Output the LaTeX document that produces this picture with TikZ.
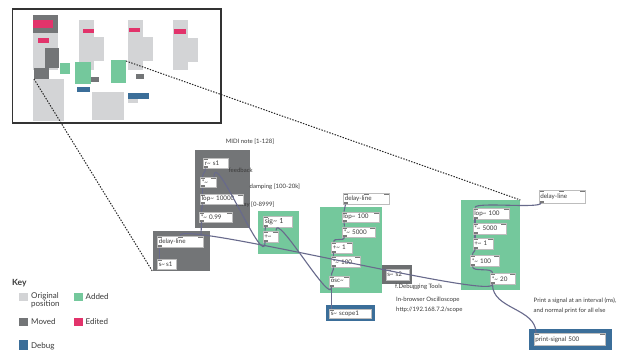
\documentclass[tikz,border=0pt]{standalone}
\usepackage{fontspec}
\setmainfont{Lato}
\usetikzlibrary{calc}
\definecolor{lg}{HTML}{D3D4D6}
\definecolor{dg}{HTML}{737577}
\definecolor{pk}{HTML}{E2336B}
\definecolor{gr}{HTML}{74C89C}
\definecolor{bl}{HTML}{3B6E99}
\definecolor{cabc}{HTML}{686A8C}
\definecolor{tabc}{HTML}{7A7A7A}
\definecolor{obd}{HTML}{BDBDBD}
\definecolor{txt}{HTML}{3A3A3A}
\newcommand\tld{\textasciitilde}
\newcommand\tabTL{\fill[tabc] (path picture bounding box.north west) rectangle ++(5pt,-1.8pt);}
\newcommand\tabTR{\fill[tabc] (path picture bounding box.north east) rectangle ++(-5pt,-1.8pt);}
\newcommand\tabTM{\fill[tabc] ([xshift=-2.5pt]path picture bounding box.north) rectangle ++(5pt,-1.8pt);}
\newcommand\tabBL{\fill[tabc] (path picture bounding box.south west) rectangle ++(5pt,1.8pt);}
\newcommand\cable[3]{\draw[cab] (#1) .. controls +(0,#3) and +(0,-#3) .. (#2);}
\tikzset{
  obj/.style={draw=obd, line width=0.5pt, fill=white, inner xsep=1.5pt, inner ysep=0pt,
    anchor=north west, font=\fontsize{6.3}{7}\selectfont, text=txt, align=left},
  io0/.style={path picture={\tabTL}},
  io1/.style={path picture={\tabTL\tabBL}},
  io2/.style={path picture={\tabTL\tabTR\tabBL}},
  io3/.style={path picture={\tabTL\tabTM\tabTR\tabBL}},
  ioP/.style={path picture={\tabTL\tabTR}},
  grp/.style={anchor=north west, inner sep=0pt, draw=none},
  cab/.style={draw=cabc, line width=1.1pt},
  lbl/.style={anchor=west, inner sep=0pt, font=\fontsize{6}{7}\selectfont, text=txt},
  keyt/.style={anchor=west, inner sep=0pt, font=\fontsize{8}{9}\selectfont, text=txt},
  keysq/.style={anchor=north west, inner sep=0pt, minimum width=9.4pt, minimum height=8.4pt},
  dashline/.style={draw=black!85, line width=1pt, dash pattern=on 1.4pt off 1.4pt},
}
\begin{document}
\begin{tikzpicture}[x=1pt,y=-1pt]
\useasboundingbox (0,0) rectangle (636,356);
\fill[white] (0,0) rectangle (636,356);
% ---------- inset overview ----------
\fill[lg] (32.7,32.7) rectangle (57.7,70);
\fill[lg] (32.7,79) rectangle (64,121);
\fill[lg] (79,20) rectangle (94,70);
\fill[lg] (94,37) rectangle (104,61);
\fill[lg] (92,92) rectangle (124,120);
\fill[lg] (128,20) rectangle (143,70);
\fill[lg] (143,37) rectangle (153,61);
\fill[lg] (128,99) rectangle (138,103);
\fill[lg] (173,20) rectangle (188,70);
\fill[lg] (188,38) rectangle (198,62);
\fill[dg] (32.7,15) rectangle (57.7,32.7);
\fill[dg] (45,47.7) rectangle (59,67.7);
\fill[dg] (34,67.7) rectangle (49,79);
\fill[dg] (91,77) rectangle (99,81.7);
\fill[dg] (136,74) rectangle (144,79);
\fill[pk] (33.3,20) rectangle (52.7,27.7);
\fill[pk] (38,37.7) rectangle (49,42.7);
\fill[pk] (83,29) rectangle (94,33);
\fill[pk] (129,28) rectangle (140,32);
\fill[pk] (174,29) rectangle (186,34);
\fill[gr] (60,63) rectangle (70,74);
\fill[gr] (75,62) rectangle (91,84);
\fill[gr] (111,60) rectangle (126,83);
\fill[bl] (77,87) rectangle (90,92);
\fill[bl] (128,93) rectangle (149,99);
\draw[black!80, line width=1.3pt] (12.5,9) rectangle (221,123);
\coordinate (ins1) at (34,79);
\coordinate (ins2) at (126,61);
% ---------- groups ----------
\node[grp, fill=dg, minimum width=55pt, minimum height=78pt] (g1) at (195,150) {};
\node[grp, fill=gr, minimum width=41pt, minimum height=42.5pt] (g2) at (257.5,211) {};
\node[grp, fill=dg, minimum width=57.5pt, minimum height=40.5pt] (g3) at (152.5,230.5) {};
\node[grp, fill=gr, minimum width=62pt, minimum height=86pt] (g4) at (320,207) {};
\node[grp, fill=gr, minimum width=59pt, minimum height=90pt] (g5) at (461,200) {};
\node[grp, fill=bl, minimum width=49pt, minimum height=15.5pt] (fscope) at (326,305) {};
\node[grp, fill=dg!95!black, minimum width=30pt, minimum height=18.5pt] (fs2) at (382,265) {};
\node[grp, fill=bl, minimum width=83pt, minimum height=21pt] (fprint) at (529,329) {};
% ---------- labels behind objects ----------
\node[lbl, anchor=center] (tmidi) at (250,142) {MIDI note [1-128]};
\node[lbl] (tfeed) at (228.5,170) {feedback};
\node[lbl] (tdamp) at (249.5,187) {damping [100-20k]};
\node[lbl] (tdelay) at (235.5,205) {delay [0-8999]};
% ---------- objects ----------
\node[obj, io1, text width=22pt, minimum height=10pt] (rs1) at (203,158) {r\tld{} s1};
\node[obj, io2, text width=13pt, minimum height=10pt] (mul1) at (200,177) {*\tld};
\node[obj, io2, text width=40pt, minimum height=10.5pt] (lop1) at (200,193.5) {lop\tld{} 10000};
\node[obj, io2, text width=30pt, minimum height=10pt] (mul099) at (199,211.5) {*\tld{} 0.99};
\node[obj, io3, text width=43pt, minimum height=11.5pt] (dl1) at (157,235.5) {delay-line};
\node[obj, io0, text width=15.5pt, minimum height=10pt] (ss1) at (157,259) {s\tld{}\,s1};
\node[obj, io1, text width=26pt, minimum height=11pt, font=\fontsize{7}{8}\selectfont] (sig) at (263,215.5) {sig\tld{} 1};
\node[obj, io2, text width=12.5pt, minimum height=11pt] (add1) at (262.5,230.5) {+\tld};
\node[obj, io3, text width=43pt, minimum height=11.5pt] (dl2) at (343,192.5) {delay-line};
\node[obj, io2, text width=34pt, minimum height=10.5pt] (lop2) at (341.5,211.5) {lop\tld{} 100};
\node[obj, io2, text width=30pt, minimum height=10.5pt] (m5a) at (342,226.5) {*\tld{} 5000};
\node[obj, io2, text width=17.5pt, minimum height=11pt] (a1b) at (331,241.5) {+\tld{} 1};
\node[obj, io2, text width=26pt, minimum height=11pt] (m100a) at (331,256) {*\tld{} 100};
\node[obj, io2, text width=16.5pt, minimum height=11pt] (osc) at (329,275.5) {osc\tld};
\node[obj, io0, text width=39pt, minimum height=9.5pt] (scope) at (329,308.5) {s\tld{} scope1};
\node[obj, io0, text width=20pt, minimum height=11pt] (s2) at (385.5,268.5) {s\tld{} s2};
\node[obj, io3, text width=43pt, minimum height=12.5pt] (dl3) at (538.5,190) {delay-line};
\node[obj, io2, text width=33.5pt, minimum height=11pt] (lop3) at (472.5,207.5) {lop\tld{} 100};
\node[obj, io2, text width=30pt, minimum height=11.5pt] (m5b) at (472.5,222.5) {*\tld{} 5000};
\node[obj, io2, text width=17pt, minimum height=11pt] (a1c) at (472.5,237.5) {+\tld{} 1};
\node[obj, io2, text width=25.5pt, minimum height=11pt] (m100b) at (470,255) {*\tld{} 100};
\node[obj, io2, text width=22pt, minimum height=11pt] (m20) at (490,273) {*\tld{} 20};
\node[obj, ioP, text width=68pt, minimum height=12pt] (print) at (533.5,333) {print-signal 500};
% ---------- cables ----------
\cable{[xshift=2.5pt]rs1.south west}{[xshift=2.5pt]mul1.north west}{4}
\cable{[xshift=2.5pt]mul1.south west}{[xshift=2.5pt]lop1.north west}{3}
\cable{[xshift=2.5pt]lop1.south west}{[xshift=2.5pt]mul099.north west}{4}
\cable{[xshift=2.5pt]mul099.south west}{[xshift=-2.5pt]dl1.north east}{5}
\cable{[xshift=2.5pt]dl1.south west}{[xshift=2.5pt]ss1.north west}{3}
\cable{[xshift=2.5pt]sig.south west}{[xshift=2.5pt]add1.north west}{2}
\cable{[xshift=2.5pt]add1.south west}{[xshift=-2.5pt]mul1.north east}{30}
\cable{[xshift=2.5pt]osc.south west}{[xshift=-2.5pt]add1.north east}{20}
\cable{[xshift=2.5pt]osc.south west}{[xshift=2.5pt]scope.north west}{5}
\cable{[xshift=2.5pt]dl2.south west}{[xshift=2.5pt]lop2.north west}{3}
\cable{[xshift=2.5pt]lop2.south west}{[xshift=2.5pt]m5a.north west}{3}
\cable{[xshift=2.5pt]m5a.south west}{[xshift=2.5pt]a1b.north west}{4}
\cable{[xshift=2.5pt]a1b.south west}{[xshift=2.5pt]m100a.north west}{3}
\cable{[xshift=2.5pt]m100a.south west}{[xshift=2.5pt]osc.north west}{4}
\cable{[xshift=2.5pt]dl3.south west}{[xshift=2.5pt]lop3.north west}{6}
\cable{[xshift=2.5pt]lop3.south west}{[xshift=2.5pt]m5b.north west}{3}
\cable{[xshift=2.5pt]m5b.south west}{[xshift=2.5pt]a1c.north west}{3}
\cable{[xshift=2.5pt]a1c.south west}{[xshift=2.5pt]m100b.north west}{4}
\cable{[xshift=2.5pt]m100b.south west}{[xshift=2.5pt]m20.north west}{6}
\cable{[xshift=2.5pt]m20.south west}{[xshift=2.5pt]print.north west}{25}
\cable{[xshift=2.5pt]m20.south west}{dl1.north}{15}
% ---------- dashed links from overview ----------
\draw[dashline] (ins1) -- (g3.south west);
\draw[dashline] (ins2) -- (g5.north east);
% ---------- notes ----------
\node[lbl] (tdbg) at (395,287) {f.Debugging Tools};
\node[lbl] (tosc1) at (396,300) {In-browser Oscilloscope};
\node[lbl] (tosc2) at (396,310) {http://192.168.7.2/scope};
\node[lbl] (tpr1) at (533.5,301) {Print a signal at an interval (ms),};
\node[lbl] (tpr2) at (533.5,310.5) {and normal print for all else};
% ---------- key ----------
\node[keyt, font=\fontsize{8.5}{9}\selectfont\bfseries] (tkey) at (12,283) {Key};
\node[keysq, fill=lg] (k1) at (18.3,292.7) {};
\node[keyt] (k1t) at (31,296.5) {Original};
\node[keyt] (k1u) at (31,304) {position};
\node[keysq, fill=gr] (k2) at (73.3,292.7) {};
\node[keyt] (k2t) at (85.5,297) {Added};
\node[keysq, fill=dg] (k3) at (18.3,317.3) {};
\node[keyt] (k3t) at (31,321.5) {Moved};
\node[keysq, fill=pk] (k4) at (73.3,317.3) {};
\node[keyt] (k4t) at (85.5,321.5) {Edited};
\node[keysq, fill=bl, minimum height=10pt] (k5) at (18.3,340) {};
\node[keyt] (k5t) at (31,346) {Debug};
\end{tikzpicture}
\end{document}
